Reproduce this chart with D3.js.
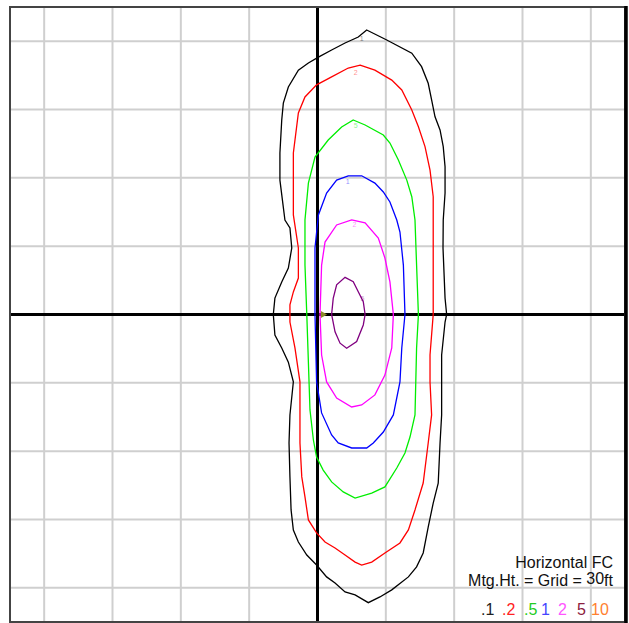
<!DOCTYPE html>
<html>
<head>
<meta charset="utf-8">
<script src="https://cdn.jsdelivr.net/npm/d3@7"></script>
<style>
  body { margin: 0; background: #fff; }
  svg { display: block; font-family: "Liberation Sans", Arial, sans-serif; }
</style>
</head>
<body>
<div id="chart"></div>
<script>
// iso-footcandle lines, points in feet (x right, y up), luminaire near origin
const iso01 = [[21.6,124.9],[30.4,120.5],[41.4,114.7],[45.7,108.8],[48.6,101.5],[50.1,94.2],[51.6,86.8],[53.8,81.0],
  [55.2,73.7],[56.0,64.9],[56.0,53.3],[55.2,41.5],[55.1,29.2],[56.0,7.2],[56.7,0],[56.0,-3.3],[54.5,-17.8],[54.5,-44.1],
  [53.8,-56.4],[53.0,-74.0],[50.8,-82.8],[48.6,-93.3],[46.4,-104.7],[43.5,-110.8],[39.9,-115.2],[32.6,-120.9],[27.4,-124.0],
  [22.3,-126.5],[16.5,-123.1],[12.1,-121.8],[7.7,-117.9],[4.0,-115.2],[-0.4,-110.0],[-4.7,-105.6],[-8.4,-99.9],[-10.6,-94.6],
  [-11.6,-85.8],[-12.1,-71.3],[-12.5,-56.4],[-12.1,-44.1],[-10.6,-29.6],[-12.8,-20.9],[-15.7,-14.7],[-18.7,-9.0],[-19.4,0],
  [-18.7,7.2],[-15.7,14.3],[-12.8,20.4],[-11.3,29.2],[-12.1,38.0],[-14.3,41.5],[-16.5,59.0],[-16.5,70.9],[-15.7,85.4],
  [-15.0,92.8],[-12.8,99.9],[-8.4,107.3],[-4.0,110.4],[0.4,113.0],[6.2,116.1],[12.1,119.2],[17.9,121.8]];
const iso02 = [[18.7,109.5],[25.2,107.3],[32.6,102.9],[37.0,98.6],[41.4,89.8],[44.3,82.4],[47.2,73.7],[49.4,63.4],
  [50.8,51.7],[50.8,41.5],[50.8,29.2],[50.8,0],[49.4,-17.8],[49.4,-29.6],[50.1,-44.1],[48.6,-56.4],[46.4,-74.0],[42.8,-85.8],
  [39.9,-94.6],[36.2,-100.3],[29.6,-104.7],[23.8,-108.7],[19.4,-110.0],[16.5,-108.7],[12.1,-105.6],[7.7,-102.5],[3.3,-99.9],
  [-0.4,-95.9],[-4.0,-90.2],[-5.5,-80.1],[-6.9,-71.3],[-7.7,-56.4],[-7.7,-29.6],[-9.9,-14.7],[-12.1,-3.3],[-12.1,4.2],
  [-10.6,9.9],[-8.4,16.0],[-8.4,29.2],[-10.6,43.7],[-10.6,70.9],[-8.4,88.5],[-5.5,95.5],[-0.4,100.8],[6.2,104.3],[13.5,108.2]];
const iso05 = [[15.7,85.4],[20.9,83.2],[28.9,78.8],[31.8,75.3],[35.5,67.8],[39.2,59.0],[41.4,51.7],[42.8,41.5],[43.5,21.7],
  [44.3,0],[43.5,-14.7],[42.8,-44.1],[40.6,-53.8],[38.4,-60.8],[34.8,-67.4],[29.6,-75.7],[23.8,-78.4],[16.5,-80.6],
  [11.3,-77.9],[6.2,-73.5],[2.5,-68.3],[-0.4,-62.6],[-1.8,-55.1],[-3.3,-41.9],[-4.7,0],[-5.5,21.7],[-5.5,41.5],[-4.0,57.7],
  [-1.1,69.1],[4.7,76.6],[10.6,82.3]];
const iso1 = [[13.5,60.9],[19.4,60.9],[25.2,57.7],[28.9,53.8],[31.8,49.4],[34.8,41.5],[36.2,36.2],[37.7,21.7],[38.4,0],
  [37.0,-14.7],[36.2,-29.6],[33.3,-44.1],[28.9,-51.6],[24.5,-56.4],[21.6,-58.6],[15.0,-58.6],[9.1,-56.4],[6.2,-52.9],
  [1.8,-43.2],[-0.4,-29.6],[-1.1,0],[-1.1,29.2],[0.4,43.7],[4.0,53.3],[8.4,59.0]];
const iso2 = [[15.0,41.5],[20.9,40.2],[26.7,33.6],[29.6,24.8],[31.8,14.3],[33.3,0],[32.6,-14.7],[29.6,-26.6],[25.2,-35.3],
  [19.4,-39.7],[15.0,-40.6],[8.4,-36.7],[4.0,-29.6],[1.8,-17.8],[1.1,0],[1.8,21.7],[3.3,31.8],[8.4,39.3]];
const iso5 = [[12.1,16.3],[15.7,14.4],[17.9,10.0],[20.1,5.6],[20.9,0],[20.1,-4.6],[17.2,-11.9],[12.8,-14.8],[9.9,-12.6],
  [7.7,-7.6],[6.2,0],[6.9,7.1],[8.4,13.0]];

const levels = [".1", ".2", ".5", "1", "2", "5", "10"];
const lineColors = ["#000000", "#ff0000", "#00ee00", "#0000ff", "#ff00ff", "#800080"];
const legendColors = ["#222222", "#ff2222", "#22cc22", "#4444ff", "#ff55ff", "#8b2040", "#ff8030"];
const contours = [iso01, iso02, iso05, iso1, iso2, iso5];
// small level labels sitting on each line, in feet
const labelPos = [[19.4,121.3],[16.8,106.3],[16.8,83.2],[13.3,58.7],[16.2,39.6],[19.7,7.4]];
const luminaire = [2.4, 0];
const gridFeet = [-120, -90, -60, -30, 30, 60, 90, 120];

const width = 629, height = 623;
const box = { left: 10, right: 625, top: 7, bottom: 622 };

const svg = d3.select('#chart').append('svg')
  .attr('width', width)
  .attr('height', height);

const x = d3.scaleLinear().domain([-135, 135]).range([box.left, box.right]);
const y = d3.scaleLinear().domain([-135, 135]).range([box.bottom, box.top]);

// grid
const grid = svg.append('g').attr('stroke', '#cfcfcf').attr('stroke-width', 2);
grid.selectAll('.gx').data(gridFeet).join('line')
  .attr('x1', d => x(d)).attr('x2', d => x(d))
  .attr('y1', box.top).attr('y2', box.bottom);
grid.selectAll('.gy').data(gridFeet).join('line')
  .attr('y1', d => y(d)).attr('y2', d => y(d))
  .attr('x1', box.left).attr('x2', box.right);

// legend text (behind lines like the original)
const leg = svg.append('g').attr('font-size', '16px').attr('text-anchor', 'end');
leg.append('text').attr('x', 613).attr('y', 568).attr('fill', '#111').text('Horizontal FC');
const mt = leg.append('text').attr('x', 613).attr('y', 586).attr('fill', '#111');
mt.append('tspan').text('Mtg.Ht. = Grid = ');
mt.append('tspan').attr('dy', -2).text('30');
mt.append('tspan').attr('dy', 2).text('ft');
const levelX = [481, 502, 524, 541, 558, 577, 591];
svg.append('g').attr('font-size', '16px')
  .selectAll('text').data(levels).join('text')
  .attr('x', (d, i) => levelX[i])
  .attr('y', 615)
  .attr('fill', (d, i) => legendColors[i])
  .text(d => d);

// axes through origin
svg.append('line').attr('x1', x(0)).attr('x2', x(0)).attr('y1', box.top).attr('y2', box.bottom)
  .attr('stroke', '#000').attr('stroke-width', 3);
svg.append('line').attr('x1', box.left).attr('x2', box.right).attr('y1', y(0)).attr('y2', y(0))
  .attr('stroke', '#000').attr('stroke-width', 3);

// contours
const line = d3.line().x(d => x(d[0])).y(d => y(d[1])).curve(d3.curveLinearClosed);
svg.append('g').attr('fill', 'none').attr('stroke-width', 1.3)
  .selectAll('path').data(contours).join('path')
  .attr('stroke', (d, i) => lineColors[i])
  .attr('d', line);

svg.append('g').attr('font-size', '7px').attr('text-anchor', 'middle').attr('opacity', 0.45)
  .selectAll('text').data(labelPos).join('text')
  .attr('x', d => x(d[0])).attr('y', d => y(d[1]) + 3)
  .attr('fill', (d, i) => lineColors[i])
  .text((d, i) => levels[i].replace('.', ''));

// luminaire marker
svg.append('path')
  .attr('d', d3.symbol(d3.symbolTriangle, 22))
  .attr('transform', `translate(${x(luminaire[0])},${y(luminaire[1])}) rotate(90)`)
  .attr('fill', '#8a8a2a');

// frame
svg.append('rect').attr('x', box.left).attr('y', box.top)
  .attr('width', box.right - box.left).attr('height', box.bottom - box.top)
  .attr('fill', 'none').attr('stroke', '#444').attr('stroke-width', 2);
svg.append('line').attr('x1', box.right + 1).attr('x2', box.right + 1).attr('y1', box.top - 1).attr('y2', box.bottom + 1)
  .attr('stroke', '#000').attr('stroke-width', 3.5);
</script>
</body>
</html>
